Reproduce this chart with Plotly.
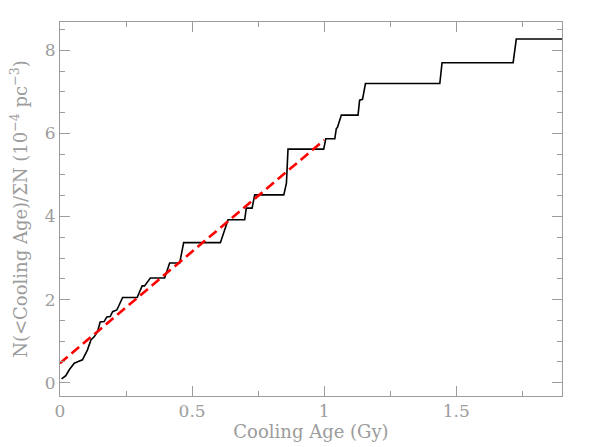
import plotly.graph_objects as go

# cumulative white dwarf density vs cooling age
age_gy = [0.006, 0.022, 0.035, 0.054, 0.069, 0.085, 0.104, 0.117, 0.130, 0.142,
          0.152, 0.167, 0.177, 0.190, 0.199, 0.215, 0.224, 0.237, 0.292, 0.311,
          0.320, 0.342, 0.396, 0.415, 0.453, 0.468, 0.607, 0.636, 0.699, 0.705,
          0.727, 0.737, 0.847, 0.857, 0.863, 0.998, 1.006, 1.040, 1.046, 1.050,
          1.065, 1.128, 1.134, 1.145, 1.156, 1.4375, 1.446, 1.715, 1.727, 1.90]
cum_density = [0.09, 0.17, 0.31, 0.47, 0.51, 0.55, 0.79, 1.03, 1.11, 1.23,
               1.46, 1.47, 1.58, 1.59, 1.71, 1.75, 1.87, 2.05, 2.05, 2.33,
               2.33, 2.52, 2.52, 2.88, 2.88, 3.37, 3.37, 3.92, 3.92, 4.20,
               4.20, 4.52, 4.52, 4.80, 5.62, 5.62, 5.87, 5.87, 6.12, 6.14,
               6.44, 6.44, 6.80, 6.82, 7.20, 7.20, 7.70, 7.70, 8.27, 8.27]

# linear fit over the first Gyr
fit_age = [0.0, 1.0]
fit_density = [0.47, 5.84]

x_ticks = [0, 0.5, 1, 1.5]
x_ticktext = ["0", "0.5", "1", "1.5"]
y_ticks = [0, 2, 4, 6, 8]

grey = "#9c9c9c"
font = "DejaVu Serif"

fig = go.Figure()

fig.add_trace(go.Scatter(
    x=age_gy,
    y=cum_density,
    mode="lines",
    line=dict(color="black", width=1.6),
    showlegend=False
))

fig.add_trace(go.Scatter(
    x=fit_age,
    y=fit_density,
    mode="lines",
    line=dict(color="#ff0000", width=2.6, dash="10px,5px"),
    showlegend=False
))

axis_common = dict(
    showline=True,
    linecolor=grey,
    linewidth=1,
    mirror="allticks",
    ticks="inside",
    ticklen=10,
    tickcolor=grey,
    tickwidth=1,
    showgrid=False,
    zeroline=False,
    automargin=False,
    tickfont=dict(family=font, size=17, color=grey),
)

fig.update_xaxes(
    range=[0, 1.9],
    tickvals=x_ticks,
    ticktext=x_ticktext,
    minor=dict(dtick=0.25, tick0=0, ticks="inside", ticklen=5, tickcolor=grey),
    title=dict(text="Cooling Age (Gy)", font=dict(family=font, size=18, color=grey), standoff=4),
    **axis_common
)

fig.update_yaxes(
    range=[-0.32, 8.68],
    tickvals=y_ticks,
    minor=dict(dtick=0.5, tick0=0, ticks="inside", ticklen=5, tickcolor=grey),
    title=dict(text="N(&lt;Cooling Age)/\u03a3N (10<sup>\u22124</sup> pc<sup>\u22123</sup>)",
               font=dict(family=font, size=18, color=grey), standoff=12),
    **axis_common
)

fig.update_layout(
    width=598,
    height=447,
    margin=dict(l=60, r=36, t=22, b=51),
    paper_bgcolor="white",
    plot_bgcolor="white",
)

# drop the browser's default page margin so the figure sits at the corner
fig.write_html(
    "out.html",
    config={"displayModeBar": False},
    post_script="document.body.style.margin = '0px';",
)
